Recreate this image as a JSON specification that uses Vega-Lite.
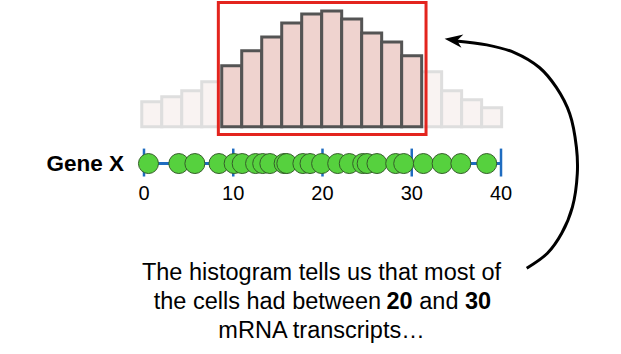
{
  "$schema": "https://vega.github.io/schema/vega-lite/v6.json",
  "width": 621,
  "height": 354,
  "padding": 0,
  "autosize": {"type": "fit", "contains": "padding"},
  "background": "white",
  "config": {"view": {"stroke": null}},
  "datasets": {
    "hist": [
      {"start": -0.25, "end": 1.99, "count": 25, "region": "outside"},
      {"start": 1.99, "end": 4.23, "count": 30, "region": "outside"},
      {"start": 4.23, "end": 6.47, "count": 36, "region": "outside"},
      {"start": 6.47, "end": 8.71, "count": 45, "region": "outside"},
      {"start": 8.71, "end": 10.95, "count": 61, "region": "inside"},
      {"start": 10.95, "end": 13.19, "count": 76, "region": "inside"},
      {"start": 13.19, "end": 15.43, "count": 90, "region": "inside"},
      {"start": 15.43, "end": 17.67, "count": 104, "region": "inside"},
      {"start": 17.67, "end": 19.91, "count": 113, "region": "inside"},
      {"start": 19.91, "end": 22.15, "count": 116, "region": "inside"},
      {"start": 22.15, "end": 24.39, "count": 108, "region": "inside"},
      {"start": 24.39, "end": 26.63, "count": 94, "region": "inside"},
      {"start": 26.63, "end": 28.87, "count": 85, "region": "inside"},
      {"start": 28.87, "end": 31.11, "count": 71, "region": "inside"},
      {"start": 31.11, "end": 33.35, "count": 55, "region": "outside"},
      {"start": 33.35, "end": 35.59, "count": 36, "region": "outside"},
      {"start": 35.59, "end": 37.83, "count": 27, "region": "outside"},
      {"start": 37.83, "end": 40.07, "count": 19, "region": "outside"}
    ],
    "cells": [
      {"transcripts": 0.5}, {"transcripts": 3.9}, {"transcripts": 5.7}, {"transcripts": 8.4},
      {"transcripts": 10.1}, {"transcripts": 11.0}, {"transcripts": 12.5}, {"transcripts": 13.3},
      {"transcripts": 14.1}, {"transcripts": 15.7}, {"transcripts": 16.0}, {"transcripts": 17.8},
      {"transcripts": 18.6}, {"transcripts": 19.9}, {"transcripts": 21.7}, {"transcripts": 23.0},
      {"transcripts": 24.5}, {"transcripts": 25.0}, {"transcripts": 26.1}, {"transcripts": 28.2},
      {"transcripts": 29.1}, {"transcripts": 31.3}, {"transcripts": 33.4}, {"transcripts": 35.5},
      {"transcripts": 38.4}
    ],
    "ticks": [{"v": 0}, {"v": 10}, {"v": 20}, {"v": 30}, {"v": 40}],
    "arrow": [
      {"i": 0, "ax": 34.96, "ay": 86},
      {"i": 1, "ax": 38.4, "ay": 82},
      {"i": 2, "ax": 41.5, "ay": 74.3},
      {"i": 3, "ax": 44.3, "ay": 59.3},
      {"i": 4, "ax": 46.2, "ay": 39.3},
      {"i": 5, "ax": 47.7, "ay": 13},
      {"i": 6, "ax": 48.45, "ay": -20.7},
      {"i": 7, "ax": 48.55, "ay": -47},
      {"i": 8, "ax": 48.0, "ay": -80.7},
      {"i": 9, "ax": 46.8, "ay": -107},
      {"i": 10, "ax": 45.2, "ay": -127},
      {"i": 11, "ax": 42.88, "ay": -142}
    ]
  },
  "data": {"name": "hist"},
  "layer": [
    {
      "data": {"name": "hist"},
      "transform": [{"filter": "datum.region === 'outside'"}],
      "mark": {"type": "rect", "fill": "#f9f3f2", "stroke": "#dedede", "strokeWidth": 3},
      "encoding": {
        "x": {"field": "start", "type": "quantitative", "scale": {"domain": [-16.134, 53.445], "nice": false, "zero": false}, "axis": null},
        "x2": {"field": "end"},
        "y": {"field": "count", "type": "quantitative", "scale": {"domain": [-228, 126], "nice": false, "zero": false}, "axis": null},
        "y2": {"datum": 0}
      }
    },
    {
      "data": {"name": "hist"},
      "transform": [{"filter": "datum.region === 'inside'"}],
      "mark": {"type": "rect", "fill": "#efd3cf", "stroke": "#545454", "strokeWidth": 3},
      "encoding": {
        "x": {"field": "start", "type": "quantitative", "scale": {"domain": [-16.134, 53.445], "nice": false, "zero": false}, "axis": null},
        "x2": {"field": "end"},
        "y": {"field": "count", "type": "quantitative", "scale": {"domain": [-228, 126], "nice": false, "zero": false}, "axis": null},
        "y2": {"datum": 0}
      }
    },
    {
      "data": {"values": [{"box": "20-30"}]},
      "mark": {"type": "rect", "fill": null, "fillOpacity": 0, "stroke": "#e3241e", "strokeWidth": 3},
      "encoding": {
        "x": {"datum": 8.33, "type": "quantitative"},
        "x2": {"datum": 31.6},
        "y": {"datum": 124.5, "type": "quantitative"},
        "y2": {"datum": -8}
      }
    },
    {
      "data": {"values": [{"line": "Gene X"}]},
      "mark": {"type": "rule", "color": "#1f6cc0", "strokeWidth": 3},
      "encoding": {
        "x": {"datum": 0, "type": "quantitative"},
        "x2": {"datum": 40},
        "y": {"datum": -37, "type": "quantitative"}
      }
    },
    {
      "data": {"name": "ticks"},
      "mark": {"type": "rule", "color": "#1f6cc0", "strokeWidth": 2.5},
      "encoding": {
        "x": {"field": "v", "type": "quantitative"},
        "y": {"datum": -22, "type": "quantitative"},
        "y2": {"datum": -50}
      }
    },
    {
      "data": {"name": "cells"},
      "mark": {"type": "circle", "size": 400, "fill": "#56d13e", "stroke": "#355e2a", "strokeWidth": 1, "opacity": 1, "fillOpacity": 1},
      "encoding": {
        "x": {"field": "transcripts", "type": "quantitative"},
        "y": {"datum": -37, "type": "quantitative"}
      }
    },
    {
      "data": {"name": "ticks"},
      "mark": {"type": "text", "font": "Liberation Sans", "fontSize": 20, "color": "black", "align": "center", "baseline": "middle"},
      "encoding": {
        "x": {"field": "v", "type": "quantitative"},
        "y": {"datum": -67.5, "type": "quantitative"},
        "text": {"field": "v", "type": "quantitative"}
      }
    },
    {
      "data": {"values": [{"label": "Gene X"}]},
      "mark": {"type": "text", "font": "Liberation Sans", "fontSize": 22.5, "fontWeight": "bold", "color": "black", "align": "right", "baseline": "middle"},
      "encoding": {
        "x": {"datum": -2.24, "type": "quantitative"},
        "y": {"datum": -37, "type": "quantitative"},
        "text": {"field": "label"}
      }
    },
    {
      "data": {"name": "arrow"},
      "mark": {"type": "line", "color": "black", "strokeWidth": 3, "interpolate": "catmull-rom"},
      "encoding": {
        "x": {"field": "ax", "type": "quantitative"},
        "y": {"field": "ay", "type": "quantitative"},
        "order": {"field": "i"}
      }
    },
    {
      "data": {"values": [{"head": "arrow"}]},
      "mark": {"type": "point", "filled": true, "color": "black", "opacity": 1, "size": 324, "angle": 8, "shape": "M -1 0 L 1 -0.75 L 0.4 0 L 1 0.75 Z"},
      "encoding": {
        "x": {"datum": 34.68, "type": "quantitative"},
        "y": {"datum": 87, "type": "quantitative"}
      }
    },
    {
      "data": {"values": [{"label": "The histogram tells us that most of"}]},
      "mark": {"type": "text", "font": "Liberation Sans", "fontSize": 23.5, "color": "black", "align": "center", "baseline": "alphabetic"},
      "encoding": {
        "x": {"datum": 19.89, "type": "quantitative"},
        "y": {"datum": -154, "type": "quantitative"},
        "text": {"field": "label"}
      }
    },
    {
      "data": {"values": [{"label": "the cells had between"}]},
      "mark": {"type": "text", "font": "Liberation Sans", "fontSize": 23.5, "color": "black", "align": "left", "baseline": "alphabetic"},
      "encoding": {
        "x": {"datum": 1.09, "type": "quantitative"},
        "y": {"datum": -183, "type": "quantitative"},
        "text": {"field": "label"}
      }
    },
    {
      "data": {"values": [{"label": "20"}]},
      "mark": {"type": "text", "font": "Liberation Sans", "fontSize": 23.5, "fontWeight": "bold", "color": "black", "align": "left", "baseline": "alphabetic"},
      "encoding": {
        "x": {"datum": 27.17, "type": "quantitative"},
        "y": {"datum": -183, "type": "quantitative"},
        "text": {"field": "label"}
      }
    },
    {
      "data": {"values": [{"label": "and"}]},
      "mark": {"type": "text", "font": "Liberation Sans", "fontSize": 23.5, "color": "black", "align": "left", "baseline": "alphabetic"},
      "encoding": {
        "x": {"datum": 30.84, "type": "quantitative"},
        "y": {"datum": -183, "type": "quantitative"},
        "text": {"field": "label"}
      }
    },
    {
      "data": {"values": [{"label": "30"}]},
      "mark": {"type": "text", "font": "Liberation Sans", "fontSize": 23.5, "fontWeight": "bold", "color": "black", "align": "left", "baseline": "alphabetic"},
      "encoding": {
        "x": {"datum": 35.97, "type": "quantitative"},
        "y": {"datum": -183, "type": "quantitative"},
        "text": {"field": "label"}
      }
    },
    {
      "data": {"values": [{"label": "mRNA transcripts…"}]},
      "mark": {"type": "text", "font": "Liberation Sans", "fontSize": 23.5, "color": "black", "align": "center", "baseline": "alphabetic"},
      "encoding": {
        "x": {"datum": 19.89, "type": "quantitative"},
        "y": {"datum": -212, "type": "quantitative"},
        "text": {"field": "label"}
      }
    }
  ]
}
